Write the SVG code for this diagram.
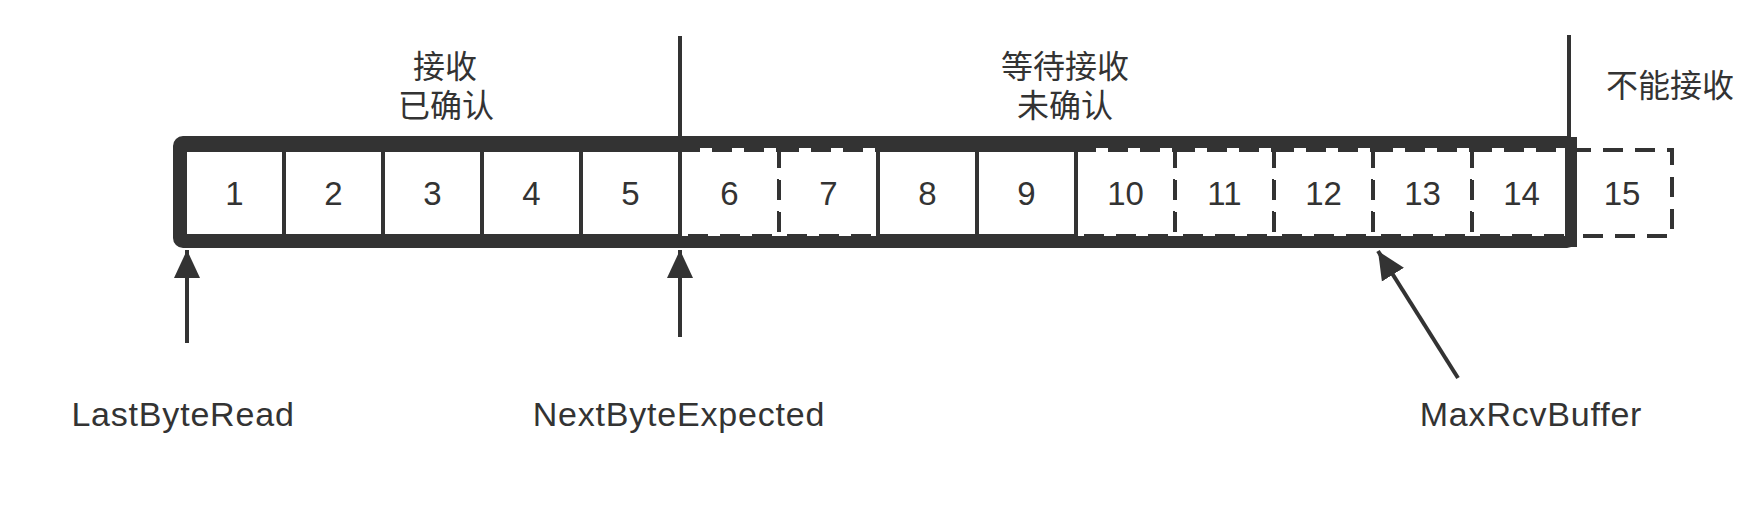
<svg xmlns="http://www.w3.org/2000/svg" width="1762" height="508" viewBox="0 0 1762 508">
  <defs>
    <style>
      .cell { fill: #ffffff; stroke: #333333; stroke-width: 4; }
      .dash { stroke-dasharray: 20 12; }
      .num { font-family: "Liberation Sans", Arial, sans-serif; font-size: 33px; fill: #333333; text-anchor: middle; }
      .lbl { font-family: "Liberation Sans", Arial, sans-serif; font-size: 34px; letter-spacing: 0.8px; fill: #333333; text-anchor: middle; }
      .cjk { font-family: "Liberation Sans", "Noto Sans CJK SC", sans-serif; font-size: 32px; fill: #333333; text-anchor: middle; }
      .sep { stroke: #333333; stroke-width: 4; fill: none; }
      .conn { stroke: #333333; stroke-width: 4; fill: none; marker-end: url(#arrow); }
    </style>
    <marker id="arrow" markerUnits="userSpaceOnUse" markerWidth="30" markerHeight="28" viewBox="0 0 30 28" refX="28" refY="14" orient="auto">
      <path d="M0,1 L28,14 L0,27 Z" fill="#333333"/>
    </marker>
  </defs>

  <rect width="1762" height="508" fill="#ffffff"/>

  <!-- cell 15 (outside the window) -->
  <g id="cell-15">
    <rect class="cell dash" x="1571" y="150" width="101" height="86"/>
    <text class="num" x="1622" y="205">15</text>
  </g>

  <!-- window frame -->
  <g id="frame">
    <rect x="179" y="142" width="1392" height="100" rx="4" fill="#ffffff" stroke="#333333" stroke-width="12"/>
  </g>

  <!-- dashed cells -->
  <g id="cell-6"><rect class="cell dash" x="680" y="150" width="99" height="86"/><text class="num" x="729.5" y="205">6</text></g>
  <g id="cell-7"><rect class="cell dash" x="779" y="150" width="99" height="86"/><text class="num" x="828.5" y="205">7</text></g>
  <g id="cell-10"><rect class="cell dash" x="1076" y="150" width="99" height="86"/><text class="num" x="1125.5" y="205">10</text></g>
  <g id="cell-11"><rect class="cell dash" x="1175" y="150" width="99" height="86"/><text class="num" x="1224.5" y="205">11</text></g>
  <g id="cell-12"><rect class="cell dash" x="1274" y="150" width="99" height="86"/><text class="num" x="1323.5" y="205">12</text></g>
  <g id="cell-13"><rect class="cell dash" x="1373" y="150" width="99" height="86"/><text class="num" x="1422.5" y="205">13</text></g>
  <g id="cell-14"><rect class="cell dash" x="1472" y="150" width="99" height="86"/><text class="num" x="1521.5" y="205">14</text></g>

  <!-- solid cells -->
  <g id="cell-1"><rect class="cell" x="185" y="150" width="99" height="86"/><text class="num" x="234.5" y="205">1</text></g>
  <g id="cell-2"><rect class="cell" x="284" y="150" width="99" height="86"/><text class="num" x="333.5" y="205">2</text></g>
  <g id="cell-3"><rect class="cell" x="383" y="150" width="99" height="86"/><text class="num" x="432.5" y="205">3</text></g>
  <g id="cell-4"><rect class="cell" x="482" y="150" width="99" height="86"/><text class="num" x="531.5" y="205">4</text></g>
  <g id="cell-5"><rect class="cell" x="581" y="150" width="99" height="86"/><text class="num" x="630.5" y="205">5</text></g>
  <g id="cell-8"><rect class="cell" x="878" y="150" width="99" height="86"/><text class="num" x="927.5" y="205">8</text></g>
  <g id="cell-9"><rect class="cell" x="977" y="150" width="99" height="86"/><text class="num" x="1026.5" y="205">9</text></g>

  <!-- frame right edge redrawn over cell 14 -->
  <line x1="1571" y1="137" x2="1571" y2="247" stroke="#333333" stroke-width="12"/>

  <!-- separators -->
  <g id="separators">
    <line class="sep" x1="680" y1="36" x2="680" y2="142"/>
    <line class="sep" x1="1569" y1="35" x2="1569" y2="142"/>
  </g>

  <!-- region labels -->
  <g id="region-received">
    <text class="cjk" x="445" y="78">接收</text>
    <text class="cjk" x="446" y="117">已确认</text>
  </g>
  <g id="region-waiting">
    <text class="cjk" x="1065" y="78">等待接收</text>
    <text class="cjk" x="1065" y="117">未确认</text>
  </g>
  <g id="region-refused">
    <text class="cjk" x="1670" y="97">不能接收</text>
  </g>

  <!-- pointer labels -->
  <g id="label-lastbyteread"><text class="lbl" x="183" y="426">LastByteRead</text></g>
  <g id="label-nextbyteexpected"><text class="lbl" x="679" y="426">NextByteExpected</text></g>
  <g id="label-maxrcvbuffer"><text class="lbl" x="1531" y="426">MaxRcvBuffer</text></g>

  <!-- connectors -->
  <g id="connectors">
    <line class="conn" x1="187" y1="343" x2="187" y2="250"/>
    <line class="conn" x1="680" y1="337" x2="680" y2="250"/>
    <line class="conn" x1="1458" y1="378" x2="1378" y2="251"/>
  </g>
</svg>
